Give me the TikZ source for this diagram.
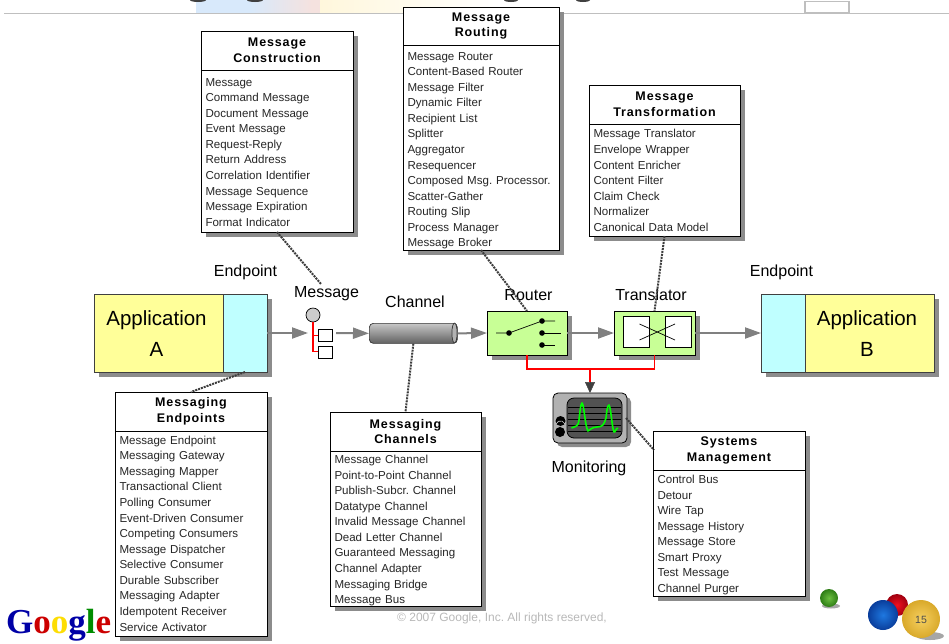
\documentclass[tikz,border=0pt]{standalone}
\usepackage{fontspec}
\setmainfont{Liberation Sans}
\newfontfamily\titlefont[LetterSpace=7]{Liberation Sans}
\newfontfamily\logofont{Liberation Serif}
\usetikzlibrary{arrows.meta,shadows}

\definecolor{appyellow}{HTML}{FFFF99}
\definecolor{epblue}{HTML}{BFFFFF}
\definecolor{boxgreen}{HTML}{C8FF96}
\definecolor{shadowgray}{HTML}{8C8C8C}
\definecolor{flowgray}{HTML}{808080}
\definecolor{noteline}{HTML}{3C3C3C}

\tikzset{
	shad/.style={drop shadow={shadow xshift=5pt, shadow yshift=-5pt, fill=shadowgray, opacity=1}},
	listhead/.style={draw=black, fill=white, shad, anchor=north west, inner sep=0pt, outer sep=0pt, line width=0.9pt, align=center,
		font=\titlefont\bfseries\fontsize{12.5}{15.5}\selectfont},
	listbody/.style={draw=black, fill=white, shad, anchor=north west, inner ysep=0pt, inner xsep=4.5pt, outer sep=0pt, line width=0.9pt, align=left,
		text=black!85, font=\frenchspacing\fontsize{11.55}{15.57}\selectfont},
	listdrop/.style={execute at begin node={\rule{0pt}{\dimexpr8.4pt+#1\relax}}, execute at end node={\par\vspace{-#1}}},
	caption/.style={inner sep=0pt, font=\fontsize{16}{18}\selectfont},
	apptext/.style={inner sep=0pt, align=center, font=\fontsize{20.5}{31}\selectfont},
	flow/.style={draw=flowgray, line width=2pt, -{Triangle[length=16pt,width=11pt]}},
	note/.style={draw=noteline, line width=2pt, dash pattern=on 2pt off 1pt},
	ctrl/.style={draw=red, line width=1.7pt}
}

\begin{document}
\begin{tikzpicture}[x=1pt, y=-1pt]
	\useasboundingbox (0, 0) rectangle (949, 643);

	% remains of the slide title
	\definecolor{bandblue}{HTML}{D8E9FB}
	\definecolor{bandpink}{HTML}{F5E2DF}
	\definecolor{bandyellow}{HTML}{FFF7DC}
	\fill[bandblue] (196, 0) rectangle (250, 13);
	\shade[left color=bandblue, right color=bandpink] (250, 0) rectangle (312, 13);
	\fill[bandpink] (312, 0) rectangle (320, 13);
	\shade[left color=bandyellow, right color=white] (320, 0) rectangle (500, 13);
	\fill[black!75] (198, 0) ellipse (8 and 2);
	\fill[black!75] (255, 0) ellipse (8 and 2);
	\fill[black!75] (511, 0) ellipse (7 and 2);
	\fill[black!75] (583, 0) ellipse (7 and 2);
	\draw[black!25, line width=1pt] (4, 13) -- (949, 13);
	\draw[black!25, fill=white, line width=1.2pt] (805, 1.5) rectangle (849, 13);

	% applications
	\node[draw=black!75, fill=appyellow, shad, anchor=north west, minimum width=129pt, minimum height=78pt, outer sep=0pt, line width=0.9pt] (appA) at (94, 294) {};
	\node[draw=black!75, fill=epblue, shad, anchor=north west, minimum width=44pt, minimum height=78pt, outer sep=0pt, line width=0.9pt] (epA) at (223, 294) {};
	\node[apptext] (appAtext) at (156.5, 334) {Application\\A};
	\node[caption] (epAlabel) at (245.5, 272) {Endpoint};

	\node[draw=black!75, fill=epblue, shad, anchor=north west, minimum width=44pt, minimum height=78pt, outer sep=0pt, line width=0.9pt] (epB) at (761, 294) {};
	\node[draw=black!75, fill=appyellow, shad, anchor=north west, minimum width=129pt, minimum height=78pt, outer sep=0pt, line width=0.9pt] (appB) at (805, 294) {};
	\node[apptext] (appBtext) at (867, 334) {Application\\B};
	\node[caption] (epBlabel) at (781.5, 272) {Endpoint};

	% message
	\node[caption] (msglabel) at (326.5, 293.5) {Message};
	\coordinate (msgin) at (308, 333);
	\coordinate (msgout) at (336, 333);
	\coordinate (msgnote) at (321, 284);
	\node[draw=black, fill=black!20, circle, minimum size=14pt, inner sep=0pt, line width=0.7pt] (msghead) at (313, 315) {};
	\node[draw=black, fill=white, anchor=north west, minimum width=14pt, minimum height=12pt, inner sep=0pt, line width=0.7pt] (msgpartA) at (317.5, 329) {};
	\node[draw=black, fill=white, anchor=north west, minimum width=14pt, minimum height=12pt, inner sep=0pt, line width=0.7pt] (msgpartB) at (317.5, 345.5) {};
	\draw[red, line width=1.1pt] (msghead.south) |- (msgpartB.west);
	\draw[red, line width=1.1pt] (msghead.south |- msgpartA.west) -- (msgpartA.west);

	% channel
	\node[caption] (chlabel) at (415, 302) {Channel};
	\node[draw=black!80, top color=black!22, bottom color=black!62, rounded corners=4pt, anchor=north west, minimum width=88pt, minimum height=20pt, inner sep=0pt, line width=0.7pt] (channel) at (369, 323) {};
	\draw[black!80, fill=black!30, line width=0.7pt] (454.5, 333) ellipse (2.6 and 10);

	% router
	\node[draw=black, fill=boxgreen, shad, anchor=north west, minimum width=80pt, minimum height=44pt, inner sep=0pt, outer sep=0pt, line width=1pt] (router) at (487, 311) {};
	\node[caption] (routerlabel) at (528.5, 295) {Router};
	\draw[line width=0.7pt] (496, 333) -- (509, 333) -- (542, 321) -- (555, 321);
	\draw[line width=0.7pt] (542, 333) -- (561, 333);
	\draw[line width=0.7pt] (542, 345) -- (555, 345);
	\foreach \dx/\dy in {509/333, 542/321, 542/333, 542/345}
		\fill (\dx, \dy) circle (2.8);

	% translator
	\node[draw=black, fill=boxgreen, shad, anchor=north west, minimum width=81pt, minimum height=44pt, inner sep=0pt, outer sep=0pt, line width=1pt] (translator) at (614, 311) {};
	\node[caption] (translatorlabel) at (651, 295) {Translator};
	\draw[black, fill=white, line width=0.7pt] (623, 316) rectangle (649, 347);
	\draw[black, fill=white, line width=0.7pt] (665.5, 316) rectangle (691.5, 347);
	\draw[line width=0.7pt] (639.5, 324) -- (675, 340);
	\draw[line width=0.7pt] (639.5, 340) -- (675, 324);

	% monitor
	\node[draw=black, fill=black!30, rounded corners=5pt, anchor=north west, minimum width=74pt, minimum height=50pt, inner sep=0pt, outer sep=0pt, line width=0.8pt,
		drop shadow={shadow xshift=4pt, shadow yshift=-4pt, fill=shadowgray, opacity=1}] (monitor) at (553, 393) {};
	\draw[black, fill=black!68, rounded corners=7pt, line width=0.8pt] (567, 398) rectangle (622, 438);
	\foreach \ly in {407, 413, 419, 425, 431}
		\draw[black, line width=0.5pt] (568, \ly) -- (621, \ly);
	\fill[black] (560.5, 421) circle (5);
	\fill[black] (560, 432) circle (5);
	\draw[black!20, line width=0.6pt] (556, 424) arc (200:340:4.8);
	\draw[green, line width=1.6pt, line join=round] (571.5, 428) .. controls (576, 426) and (578, 427) .. (579, 420) .. controls (580, 410) and (581, 403) .. (582, 403) .. controls (584, 404) and (585, 426) .. (588, 431) .. controls (590, 430) and (592, 427) .. (597, 427) .. controls (603, 427) and (604, 424) .. (606, 418) .. controls (607, 408) and (608, 405) .. (609, 405) .. controls (611, 408) and (612, 428) .. (614, 432) .. controls (615, 433) and (616, 428) .. (618, 428);
	\node[caption] (monlabel) at (589, 468) {Monitoring};

	% list boxes
	\node[listhead, minimum width=152pt, minimum height=39pt] (constrhead) at (201, 31) {Message\\Construction};
	\node[listbody, listdrop=1pt, minimum width=152pt, minimum height=162pt, text width=143pt] (constr) at (constrhead.south west) {Message\\Command Message\\Document Message\\Event Message\\Request-Reply\\Return Address\\Correlation Identifier\\Message Sequence\\Message Expiration\\Format Indicator};

	\node[listhead, minimum width=156pt, minimum height=38pt] (routinghead) at (403, 7) {Message\\Routing};
	\node[listbody, listdrop=3pt, minimum width=156pt, minimum height=205pt, text width=147pt] (routing) at (routinghead.south west) {Message Router\\Content-Based Router\\Message Filter\\Dynamic Filter\\Recipient List\\Splitter\\Aggregator\\Resequencer\\Composed Msg. Processor.\\Scatter-Gather\\Routing Slip\\Process Manager\\Message Broker};

	\node[listhead, minimum width=151pt, minimum height=39pt] (transfhead) at (589, 85) {Message\\Transformation};
	\node[listbody, listdrop=0.5pt, minimum width=151pt, minimum height=112pt, text width=142pt] (transf) at (transfhead.south west) {Message Translator\\Envelope Wrapper\\Content Enricher\\Content Filter\\Claim Check\\Normalizer\\Canonical Data Model};

	\node[listhead, minimum width=152pt, minimum height=39pt] (endpthead) at (115, 392) {Messaging\\Endpoints};
	\node[listbody, minimum width=152pt, minimum height=205pt, text width=143pt] (endpt) at (endpthead.south west) {Message Endpoint\\Messaging Gateway\\Messaging Mapper\\Transactional Client\\Polling Consumer\\Event-Driven Consumer\\Competing Consumers\\Message Dispatcher\\Selective Consumer\\Durable Subscriber\\Messaging Adapter\\Idempotent Receiver\\Service Activator};

	\node[listhead, minimum width=151pt, minimum height=39pt] (chanhead) at (330, 412) {Messaging\\Channels};
	\node[listbody, listdrop=2pt, minimum width=151pt, minimum height=155pt, text width=142pt] (chan) at (chanhead.south west) {Message Channel\\Point-to-Point Channel\\Publish-Subcr. Channel\\Datatype Channel\\Invalid Message Channel\\Dead Letter Channel\\Guaranteed Messaging\\Channel Adapter\\Messaging Bridge\\Message Bus};

	\node[listhead, minimum width=152pt, minimum height=39pt] (syshead) at (653, 431) {Systems\\Management};
	\node[listbody, listdrop=2pt, minimum width=152pt, minimum height=126pt, text width=143pt] (sys) at (syshead.south west) {Control Bus\\Detour\\Wire Tap\\Message History\\Message Store\\Smart Proxy\\Test Message\\Channel Purger};

	% message flow
	\draw[flow] (epA.east) -- (msgin);
	\draw[flow] (msgout) -- (channel.west);
	\draw[flow] (channel.east) -- (router.west);
	\draw[flow] (router.east) -- (translator.west);
	\draw[flow] (translator.east) -- (epB.west);

	% control lines
	\coordinate (ctrlmid) at (590, 369);
	\coordinate (ctrltip) at (590, 382);
	\draw[ctrl] (router.south) |- (ctrlmid);
	\draw[ctrl] (translator.south) |- (ctrlmid);
	\draw[ctrl] (ctrlmid) -- (ctrltip);
	\draw[draw=black!75, fill=black!75, line width=0.5pt, -{Triangle[length=11pt,width=10pt]}] (ctrltip) -- (monitor.north);

	% notes
	\coordinate (sysnote) at (654, 450);
	\coordinate (monnote) at (626, 418);
	\draw[note] (constr.south) -- (msgnote);
	\draw[note] (routing.south) -- (router.north);
	\draw[note] (transf.south) -- (translator.north);
	\draw[note] (epA.south) -- (endpthead.north);
	\draw[note] (channel.south) -- (chanhead.north);
	\draw[note] (monnote) -- (sysnote);

	% footer
	\node[inner sep=0pt, text=black!28, font=\frenchspacing\fontsize{12}{14}\selectfont] (copyright) at (502, 618) {© 2007 Google, Inc. All rights reserved,};
	\node[inner sep=0pt, anchor=base west, font=\logofont\bfseries\fontsize{35}{35}\selectfont] (logo) at (6, 633) {\textcolor{blue!65!black}{G}\textcolor{red!80!black}{o}\textcolor{yellow!80!orange}{o}\textcolor{blue!65!black}{g}\textcolor{green!55!black}{l}\textcolor{red!80!black}{e}};

	% balls
	\definecolor{ballgreenin}{HTML}{6CC040}
	\definecolor{ballgreenout}{HTML}{2E7D16}
	\definecolor{ballredin}{HTML}{F01020}
	\definecolor{ballredout}{HTML}{A00010}
	\definecolor{ballbluein}{HTML}{1E78E0}
	\definecolor{ballblueout}{HTML}{0A3E9C}
	\definecolor{ballyellowin}{HTML}{F6D060}
	\definecolor{ballyellowout}{HTML}{D9A92A}
	\fill[black!35] (831, 606) ellipse (9 and 2.5);
	\fill[black!35] (930, 636) ellipse (14 and 4);
	\shade[inner color=ballgreenin, outer color=ballgreenout] (829, 598) circle (9);
	\shade[inner color=ballredin, outer color=ballredout] (897, 605) circle (11);
	\shade[inner color=ballbluein, outer color=ballblueout] (883, 615) circle (15);
	\shade[inner color=ballyellowin, outer color=ballyellowout] (921, 619) circle (19);
	\node[inner sep=0pt, text=black!70, font=\fontsize{10.5}{12}\selectfont] (pagenum) at (921, 619.5) {15};
\end{tikzpicture}
\end{document}
